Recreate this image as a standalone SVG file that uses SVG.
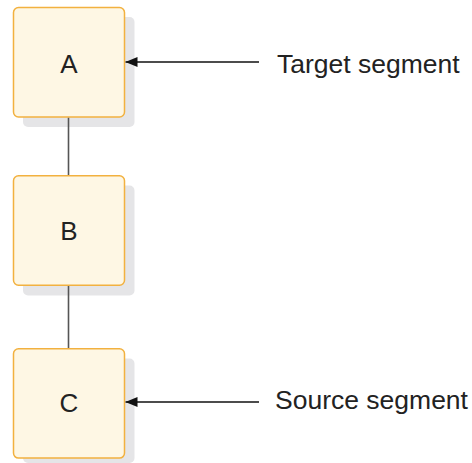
<svg xmlns="http://www.w3.org/2000/svg" width="472" height="463" viewBox="0 0 472 463">
<style>
.shadow{fill:#e5e5e7;}
.box{fill:#fef7e4;stroke:#f2b13f;stroke-width:1.5;}
.lbl{font-family:"Liberation Sans",Arial,sans-serif;font-size:26px;fill:#222;}
.side{font-size:26.5px;}
.conn{stroke:#555;stroke-width:1.6;fill:none;}
.arr{stroke:#111;stroke-width:1.3;fill:none;}
</style>
<defs>
<marker id="ah" viewBox="0 0 12 10" refX="12" refY="5" markerWidth="12" markerHeight="10" markerUnits="userSpaceOnUse" orient="auto">
<path d="M0,0 L12,5 L0,10 Z" fill="#111"/>
</marker>
</defs>
<g id="nodeA">
<rect class="shadow" x="23" y="17" width="111.5" height="110" rx="5"/>
<rect class="box" x="13.5" y="7.5" width="111" height="109.5" rx="5"/>
<text class="lbl" x="69" y="72.5" text-anchor="middle">A</text>
</g>
<g id="nodeB">
<rect class="shadow" x="23" y="185.5" width="111.5" height="110" rx="5"/>
<rect class="box" x="13.5" y="175.8" width="111" height="109.5" rx="5"/>
<text class="lbl" x="69" y="240" text-anchor="middle">B</text>
</g>
<g id="nodeC">
<rect class="shadow" x="23" y="358.5" width="111.5" height="104.5" rx="5"/>
<rect class="box" x="13.5" y="348.8" width="111" height="109.3" rx="5"/>
<text class="lbl" x="69" y="412" text-anchor="middle">C</text>
</g>
<g id="connectors">
<line class="conn" x1="68.5" y1="117.8" x2="68.5" y2="175"/>
<line class="conn" x1="68.5" y1="286" x2="68.5" y2="348"/>
<line class="arr" x1="259" y1="62" x2="125.5" y2="62" marker-end="url(#ah)"/>
<line class="arr" x1="259" y1="402" x2="125.5" y2="402" marker-end="url(#ah)"/>
</g>
<g id="labels">
<text class="lbl side" x="277" y="73">Target segment</text>
<text class="lbl side" x="275" y="408.5">Source segment</text>
</g>
</svg>
